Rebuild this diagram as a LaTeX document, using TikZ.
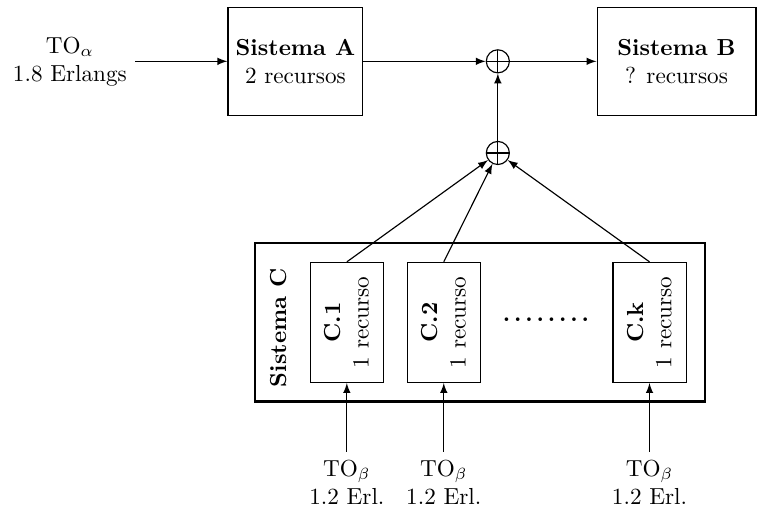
\documentclass[tikz,border=0pt]{standalone}
\usepackage{amsmath}
\usepackage{amssymb}
\usepackage{tikz}
\usetikzlibrary{arrows,shapes,calc,positioning}
\tikzstyle{flecha}=[->, >=latex, line width=0.5pt]
\tikzstyle{sistema}=[draw, align=center, line width=0.5pt,
                    minimum width=1.9cm, minimum height=1.64cm]
\tikzstyle{subsistema}=[draw, align=center, rotate=90, line width=0.5pt,
                    minimum width=1.82cm, minimum height=1.11cm]
\tikzstyle{suma}=[circle, draw, minimum size=0.35cm, inner sep=0pt,
                    line width=0.5pt,
                    path picture={\draw (path picture bounding box.north) -- (path picture bounding box.south)
                                        (path picture bounding box.west) -- (path picture bounding box.east);}]
\tikzstyle{etiqueta}=[align=center]

\begin{document}
\begin{tikzpicture}

    \useasboundingbox (0,0) rectangle (11.48,-7.77);

    % fila de arriba
    \draw (1.06,-0.93) node(toA)[etiqueta]{TO$_\alpha$\\1.8 Erlangs};
    \draw (4.48,-0.93) node(A)[sistema]{\textbf{Sistema A}\\2 recursos};
    \draw (7.55,-0.93) node(s1)[suma]{};
    \draw (7.55,-2.32) node(s2)[suma]{};
    \draw (10.26,-0.93) node(B)[sistema,minimum width=2.41cm]{\textbf{Sistema B}\\? recursos};

    \draw [flecha] (toA) -- (A);
    \draw [flecha] (A) -- (s1);
    \draw [flecha] (s1) -- (B);
    \draw [flecha] (s2) -- (s1);

    % sistema C
    \draw (7.28,-4.89) node(C)[draw,line width=1pt,minimum width=6.83cm,minimum height=2.4cm]{};
    \draw (4.22,-4.97) node(nC)[rotate=90]{\textbf{Sistema C}};
    \draw (8.28,-4.85) node(puntos){\textbf{.\,.\,.\,.\,.\,.\,.\,.}};

    \foreach \i/\x in {1/5.26,2/6.73,k/9.85} {
        \draw (\x,-4.89) node(c\i)[subsistema]{\textbf{C.\i}\\1 recurso};
        \draw (\x,-7.31) node(to\i)[etiqueta]{TO$_\beta$\\1.2 Erl.};
        \draw [flecha] (to\i.north) -- (c\i.west);
        \draw [flecha] (c\i.east) -- (s2);
    }

\end{tikzpicture}
\end{document}
